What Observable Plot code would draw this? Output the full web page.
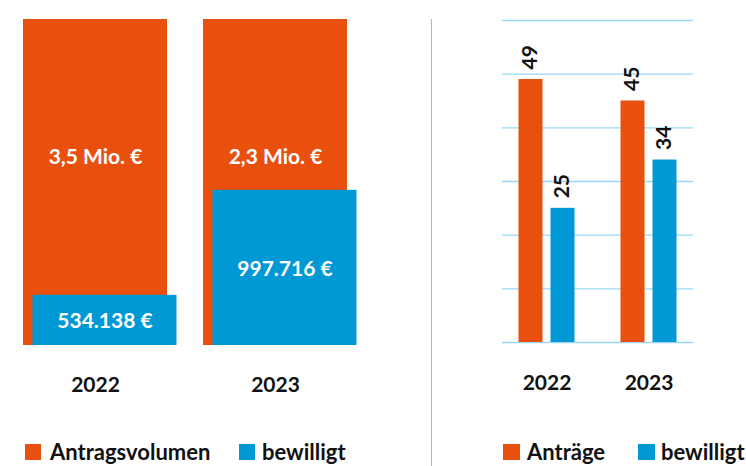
<!DOCTYPE html>
<html><head><meta charset="utf-8">
<script src="https://cdn.jsdelivr.net/npm/d3@7"></script>
<script src="https://cdn.jsdelivr.net/npm/@observablehq/plot@0.6"></script>
<style>
html,body{margin:0;padding:0;background:#fff;}
#wrap{position:relative;width:746px;height:466px;overflow:hidden;font-family:Lato,sans-serif;font-weight:700;font-size:21px;color:#111;}
.panel{position:absolute;top:0;}
.sep{position:absolute;left:431px;top:19px;width:1px;height:447px;background:#6fcbf5;}
.sw{position:absolute;top:444px;width:16px;height:16px;}
.lt{position:absolute;top:438.8px;font-size:22px;line-height:26.4px;white-space:nowrap;}
</style></head><body>
<div id="wrap"></div>
<script>
const years = ["2022", "2023"];
// Left panel: Antragsvolumen vs. bewilligt (drawn as proportion of the requested volume)
const volumeLabels = ["3,5 Mio. €", "2,3 Mio. €"];
const approvedLabels = ["534.138 €", "997.716 €"];
const volumeShare = [1, 1];
const approvedShare = [0.154, 0.476];
// Right panel: number of applications
const applications = [49, 45];
const approvedCount = [25, 34];
const yTicksRight = [0, 10, 20, 30, 40, 50, 60];
const seriesLeft = ["Antragsvolumen", "bewilligt"];
const seriesRight = ["Anträge", "bewilligt"];
const colors = ["#E9500E", "#0099D5"];

const FS = 21;
const wrap = document.getElementById("wrap");
const baseStyle = {fontFamily: "Lato, sans-serif", fontSize: FS + "px", fontWeight: "700", color: "#111", background: "transparent", overflow: "visible"};

const leftData = years.map((y, i) => ({year: y, volume: volumeShare[i], approved: approvedShare[i], vLabel: volumeLabels[i], aLabel: approvedLabels[i]}));

const left = Plot.plot({
  width: 373, height: 425,
  marginLeft: 5, marginRight: 8, marginTop: 19, marginBottom: 80,
  style: baseStyle,
  x: {domain: years, paddingInner: 0.2, paddingOuter: 0.1},
  y: {domain: [0, 1], axis: null},
  marks: [
    Plot.barY(leftData, {x: "year", y: "volume", fill: colors[0]}),
    Plot.barY(leftData, {x: "year", y: "approved", fill: colors[1], dx: 9.5}),
    Plot.text(leftData, {x: "year", frameAnchor: "middle", dy: -25, text: "vLabel", fill: "white", fontSize: FS, fontWeight: 700}),
    Plot.text(leftData, {x: "year", y: d => d.approved / 2, dx: 9.5, dy: 1, text: "aLabel", fill: "white", fontSize: FS, fontWeight: 700}),
    Plot.axisX({tickSize: 0, tickPadding: 32, label: null, fontSize: FS, fontWeight: 700, fill: "#111"})
  ]
});
left.classList.add("panel");
left.style.left = "0px";
wrap.appendChild(left);

const rightData = years.flatMap((y, i) => [
  {year: y, series: seriesRight[0], v: applications[i]},
  {year: y, series: seriesRight[1], v: approvedCount[i]}
]);
const rA = rightData.filter(d => d.series === seriesRight[0]);
const rB = rightData.filter(d => d.series === seriesRight[1]);

const right = Plot.plot({
  width: 373, height: 425,
  marginLeft: 129, marginRight: 53, marginTop: 20, marginBottom: 83,
  style: baseStyle,
  x: {domain: years, paddingInner: 0.5, paddingOuter: 0.1856},
  y: {domain: [0, 60], axis: null},
  marks: [
    Plot.ruleY(yTicksRight, {stroke: "#9ad7f5", strokeWidth: 1.4}),
    Plot.barY(rA, {x: "year", y: "v", fill: colors[0], insetLeft: 13.5, insetRight: 13.5, dx: -16}),
    Plot.barY(rB, {x: "year", y: "v", fill: colors[1], insetLeft: 13.5, insetRight: 13.5, dx: 16}),
    Plot.text(rA, {x: "year", y: "v", text: d => String(d.v), rotate: -90, textAnchor: "start", dx: -17, dy: -10, fill: "#111", fontSize: FS, fontWeight: 700}),
    Plot.text(rB, {x: "year", y: "v", text: d => String(d.v), rotate: -90, textAnchor: "start", dx: 15, dy: -10, fill: "#111", fontSize: FS, fontWeight: 700}),
    Plot.axisX({tickSize: 0, tickPadding: 33, label: null, fontSize: FS, fontWeight: 700, fill: "#111"})
  ]
});
right.classList.add("panel");
right.style.left = "373px";
wrap.appendChild(right);

const sep = document.createElement("div");
sep.className = "sep";
wrap.appendChild(sep);

function legendItem(label, color, swLeft, textLeft, swW) {
  const s = document.createElement("div");
  s.className = "sw";
  s.style.left = swLeft + "px";
  s.style.width = swW + "px";
  s.style.background = color;
  const t = document.createElement("div");
  t.className = "lt";
  t.style.left = textLeft + "px";
  t.textContent = label;
  wrap.appendChild(s);
  wrap.appendChild(t);
}
legendItem(seriesLeft[0], colors[0], 25, 50, 16);
legendItem(seriesLeft[1], colors[1], 239, 262, 16);
legendItem(seriesRight[0], colors[0], 503, 527, 17);
legendItem(seriesRight[1], colors[1], 638, 661, 17);
</script>
</body></html>
